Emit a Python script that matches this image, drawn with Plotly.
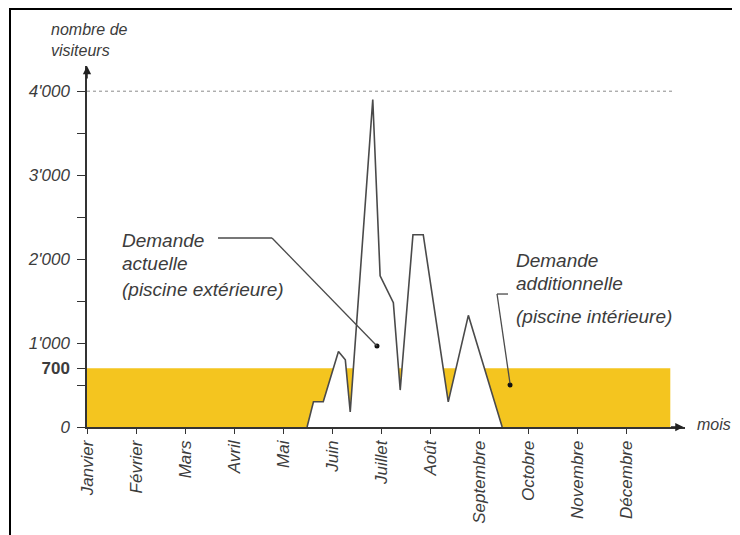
import plotly.graph_objects as go

# ---- data ----
months = ["Janvier", "Février", "Mars", "Avril", "Mai", "Juin", "Juillet",
          "Août", "Septembre", "Octobre", "Novembre", "Décembre"]
month_pos = list(range(12))

# current demand (outdoor pool) – x in month units from Janvier
demand_x = [4.49, 4.62, 4.82, 5.13, 5.27, 5.37, 5.83, 5.98, 6.25, 6.39,
            6.65, 6.86, 7.37, 7.78, 8.47]
demand_y = [0, 300, 300, 900, 800, 180, 3900, 1800, 1480, 440,
            2290, 2290, 300, 1330, 0]

# additional demand (indoor pool) threshold over the year
base_x = [0, 11.9]
base_y = [700, 700]

capacity = 4000

ytick_vals = [0, 500, 700, 1000, 1500, 2000, 2500, 3000, 3500, 4000]
ytick_text = ["<i>0</i>", "", "<b>700</b>", "<i>1'000</i>", "", "<i>2'000</i>", "",
              "<i>3'000</i>", "", "<i>4'000</i>"]

YELLOW = "#F4C51F"
LINE = "#4a4a4a"
TXT = "#3c3c3c"
FONT = "Liberation Sans"

fig = go.Figure()

fig.add_trace(go.Scatter(x=base_x, y=base_y, mode="lines", fill="tozeroy",
                         fillcolor=YELLOW, line=dict(width=0, color=YELLOW),
                         hoverinfo="skip", showlegend=False))
fig.add_trace(go.Scatter(x=demand_x, y=demand_y, mode="lines", fill="tozeroy",
                         fillcolor="white", line=dict(width=1.6, color=LINE),
                         hoverinfo="skip", showlegend=False))
# capacity line
fig.add_trace(go.Scatter(x=[0, 11.96], y=[capacity, capacity], mode="lines",
                         line=dict(width=1, color="#8a8a8a", dash="dot"),
                         hoverinfo="skip", showlegend=False))
# pointer dots
fig.add_trace(go.Scatter(x=[5.916, 8.63], y=[965, 500], mode="markers",
                         marker=dict(size=5, color="#111"),
                         hoverinfo="skip", showlegend=False, cliponaxis=False))

OFF = 8  # page body margin
W, H = 740, 535
L, T = 87 - OFF, 66 - OFF
R = W - (685 - OFF)
B = H - (427 - OFF)
pw, ph = W - L - R, H - T - B


def px(xs):
    """screen x pixel -> paper"""
    return (xs - OFF - L) / pw


def py(ys):
    """screen y pixel -> paper"""
    return (H - B - (ys - OFF)) / ph


shapes = [
    # frame (top and left)
    dict(type="line", xref="paper", yref="paper", x0=px(10), x1=px(760), y0=py(9), y1=py(9),
         line=dict(color="black", width=2)),
    dict(type="line", xref="paper", yref="paper", x0=px(10), x1=px(10), y0=py(8), y1=py(560),
         line=dict(color="black", width=2)),
    # leader lines
    dict(type="line", x0=2.673, y0=2251, x1=3.774, y1=2251, line=dict(color=LINE, width=1.3)),
    dict(type="line", x0=3.774, y0=2251, x1=5.916, y1=965, line=dict(color=LINE, width=1.3)),
    dict(type="line", x0=8.589, y0=1584, x1=8.365, y1=1584, line=dict(color=LINE, width=1.3)),
    dict(type="line", x0=8.365, y0=1584, x1=8.63, y1=520, line=dict(color=LINE, width=1.3)),
]

ann_font = dict(family=FONT, size=19, color=TXT, style="italic")
lab_font = dict(family=FONT, size=16, color=TXT, style="italic")

annotations = []


def line_text(text, x, y, font, xanchor="left"):
    annotations.append(dict(text=text, x=x, y=y, xref="x", yref="y", showarrow=False,
                            xanchor=xanchor, yanchor="middle", font=font))


line_text("Demande", 0.673, 2227, ann_font)
line_text("actuelle", 0.673, 1953, ann_font)
line_text("(piscine extérieure)", 0.673, 1632, ann_font)
line_text("Demande", 8.711, 1989, ann_font)
line_text("additionnelle", 8.711, 1715, ann_font)
line_text("(piscine intérieure)", 8.711, 1322, ann_font)

# axis titles
annotations.append(dict(text="nombre de<br>visiteurs", xref="paper", yref="paper",
                        x=px(49), y=py(40), xanchor="left", yanchor="middle", align="left",
                        showarrow=False, font=lab_font))
annotations.append(dict(text="mois", xref="paper", yref="paper", x=px(695), y=py(424),
                        xanchor="left", yanchor="middle", showarrow=False, font=lab_font))

# axis arrows
annotations.append(dict(x=12.17, y=0, xref="x", yref="y", ax=-14, ay=0, text="",
                        showarrow=True, arrowhead=2, arrowsize=1.1, arrowwidth=1.5,
                        arrowcolor="#222"))
annotations.append(dict(x=0, y=4300, xref="x", yref="y", ax=0, ay=14, text="",
                        showarrow=True, arrowhead=2, arrowsize=1.1, arrowwidth=1.5,
                        arrowcolor="#222"))

fig.update_layout(
    width=W, height=H,
    margin=dict(l=L, r=R, t=T, b=B, pad=0),
    paper_bgcolor="white", plot_bgcolor="white",
    shapes=shapes, annotations=annotations,
    font=dict(family=FONT, color=TXT),
    xaxis=dict(range=[0, 12.2], showgrid=False, zeroline=False,
               showline=True, linecolor="#333", linewidth=1.5,
               ticks="outside", ticklen=5, tickcolor="#333", tickwidth=1.2,
               tickvals=month_pos, ticktext=months, tickangle=-90,
               tickfont=dict(family=FONT, size=17, color=TXT, style="italic")),
    yaxis=dict(range=[0, 4300], showgrid=False, zeroline=False,
               showline=True, linecolor="#333", linewidth=1.5,
               ticks="outside", ticklen=8, tickcolor="#333", tickwidth=1.2,
               tickvals=ytick_vals, ticktext=ytick_text, ticklabelstandoff=4,
               tickfont=dict(family=FONT, size=17, color=TXT)),
)

fig.write_html("out.html")
